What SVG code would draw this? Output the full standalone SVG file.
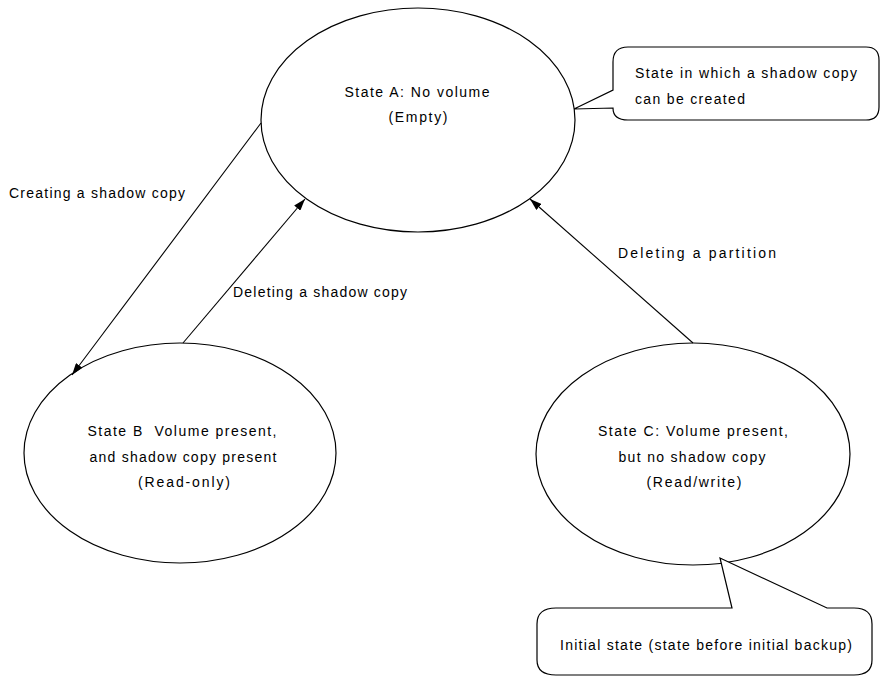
<svg xmlns="http://www.w3.org/2000/svg" width="880" height="677" viewBox="0 0 880 677">
<style>
.shape{fill:#fff;stroke:#000;stroke-width:1.2}
.conn{fill:none;stroke:#000;stroke-width:1.1}
text{font-family:"Liberation Sans",Arial,sans-serif;font-size:14px;fill:#000}
.c{text-anchor:middle}
</style>
<defs>
<marker id="arr" viewBox="0 0 12 8" refX="12" refY="4" markerWidth="12" markerHeight="8" markerUnits="userSpaceOnUse" orient="auto">
<path d="M0,0 L12,4 L0,8 Z" fill="#000"/>
</marker>
</defs>
<rect width="880" height="677" fill="#fff"/>
<g id="stateA">
<ellipse class="shape" cx="418" cy="120" rx="157" ry="112"/>
<text class="c" x="417" y="97" textLength="145" lengthAdjust="spacing">State A: No volume</text>
<text class="c" x="418" y="122" textLength="59" lengthAdjust="spacing">(Empty)</text>
</g>
<g id="stateB">
<ellipse class="shape" cx="180" cy="453" rx="156" ry="110"/>
<text class="c" x="182" y="436" textLength="189" lengthAdjust="spacing" xml:space="preserve">State B  Volume present,</text>
<text class="c" x="183" y="462" textLength="187" lengthAdjust="spacing">and shadow copy present</text>
<text class="c" x="184" y="487" textLength="92" lengthAdjust="spacing">(Read-only)</text>
</g>
<g id="stateC">
<ellipse class="shape" cx="693" cy="454" rx="157" ry="111"/>
<text class="c" x="693" y="436" textLength="190" lengthAdjust="spacing">State C: Volume present,</text>
<text class="c" x="692" y="462" textLength="147" lengthAdjust="spacing">but no shadow copy</text>
<text class="c" x="694" y="487" textLength="95" lengthAdjust="spacing">(Read/write)</text>
</g>
<g id="calloutA">
<path class="shape" d="M613,90 L613,62 Q613,47 628,47 L866,47 Q879,47 879,60 L879,107 Q879,120 866,120 L628,120 Q613,120 613,108 L574,109 Z"/>
<text x="635" y="78" textLength="222" lengthAdjust="spacing">State in which a shadow copy</text>
<text x="635" y="104" textLength="110" lengthAdjust="spacing">can be created</text>
</g>
<g id="calloutC">
<path class="shape" d="M732,608 L556,608 Q537,608 537,624 L537,660 Q537,675 556,675 L854,675 Q872,675 872,660 L872,624 Q872,608 854,608 L827,608 L720,558 Z"/>
<text x="560" y="650" textLength="292" lengthAdjust="spacing">Initial state (state before initial backup)</text>
</g>
<g id="connectors">
<line class="conn" x1="261" y1="123" x2="72" y2="375" marker-end="url(#arr)"/>
<line class="conn" x1="183" y1="343" x2="305" y2="199" marker-end="url(#arr)"/>
<line class="conn" x1="693" y1="343" x2="530" y2="199" marker-end="url(#arr)"/>
<text x="9" y="198" textLength="176" lengthAdjust="spacing">Creating a shadow copy</text>
<text x="233" y="297" textLength="174" lengthAdjust="spacing">Deleting a shadow copy</text>
<text x="618" y="258" textLength="158" lengthAdjust="spacing">Deleting a partition</text>
</g>
</svg>
